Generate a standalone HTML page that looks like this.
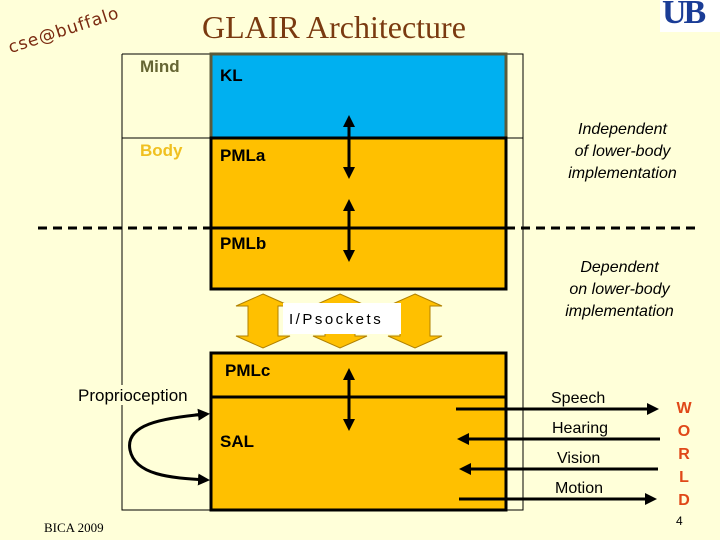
<!DOCTYPE html>
<html><head><style>
body{margin:0;background:#ffffd9;}
#c{position:relative;width:720px;height:540px;overflow:hidden;background:#ffffd9;font-family:"Liberation Sans",Arial,sans-serif;}
.t{position:absolute;white-space:nowrap;}
</style></head><body><div id="c">
<svg width="720" height="540" style="position:absolute;left:0;top:0">
<defs>
<marker id="a" markerWidth="12" markerHeight="12" refX="9" refY="6" orient="auto" markerUnits="userSpaceOnUse"><path d="M0,0 L12,6 L0,12 z" fill="#000"/></marker>
<marker id="s" markerWidth="12" markerHeight="12" refX="3" refY="6" orient="auto" markerUnits="userSpaceOnUse"><path d="M12,0 L0,6 L12,12 z" fill="#000"/></marker>
</defs>
<path d="M122,54 V385 M122,405 V510 H523 V54 H122 M122,138 H523" stroke="#000" stroke-width="1" fill="none"/>
<rect x="211" y="54" width="295" height="84" fill="#00b0f0" stroke="#5a5a3a" stroke-width="3"/>
<rect x="211" y="138" width="295" height="151" fill="#ffc000" stroke="#000" stroke-width="3"/>
<line x1="211" y1="228" x2="506" y2="228" stroke="#000" stroke-width="3"/>
<line x1="38" y1="228" x2="211" y2="228" stroke="#000" stroke-width="3" stroke-dasharray="9,6"/>
<line x1="506" y1="228" x2="695" y2="228" stroke="#000" stroke-width="3" stroke-dasharray="9,6"/>
<rect x="211" y="353" width="295" height="157" fill="#ffc000" stroke="#000" stroke-width="3"/>
<line x1="211" y1="397" x2="506" y2="397" stroke="#000" stroke-width="3"/>
<g stroke="#000" stroke-width="3">
<line x1="349" y1="118" x2="349" y2="176" marker-start="url(#s)" marker-end="url(#a)"/>
<line x1="349" y1="202" x2="349" y2="259" marker-start="url(#s)" marker-end="url(#a)"/>
<line x1="349" y1="371" x2="349" y2="428" marker-start="url(#s)" marker-end="url(#a)"/>
<line x1="456" y1="409" x2="656" y2="409" marker-end="url(#a)"/>
<line x1="460" y1="439" x2="660" y2="439" marker-start="url(#s)"/>
<line x1="462" y1="469" x2="658" y2="469" marker-start="url(#s)"/>
<line x1="459" y1="499" x2="654" y2="499" marker-end="url(#a)"/>
<path d="M207,414 C160,418 125,425 130,450 C135,475 170,478 207,480" fill="none" marker-end="url(#a)"/>
<line x1="195" y1="415" x2="207" y2="414" marker-end="url(#a)"/>
</g>
<g fill="#ffc000" stroke="#b08000" stroke-width="1">
<path d="M263,294 L290,306 H278 V336 H290 L263,348 L236,336 H248 V306 H236 Z"/>
<path d="M340,294 L367,306 H355 V336 H367 L340,348 L313,336 H325 V306 H313 Z"/>
<path d="M415,294 L442,306 H430 V336 H442 L415,348 L388,336 H400 V306 H388 Z"/>
</g>
<rect x="283" y="303" width="118" height="31" fill="#fff"/>
</svg>
<div class="t" style="left:12px;top:38px;font-family:'DejaVu Sans';font-size:17px;color:#7a2a10;transform:rotate(-18deg);transform-origin:0 100%;letter-spacing:1px">cse@buffalo</div>
<div class="t" style="left:202px;top:9px;font-family:'Liberation Serif',serif;font-size:32px;color:#7a3a10">GLAIR Architecture</div>
<div style="position:absolute;left:660px;top:0;width:60px;height:32px;background:#fff"></div>
<div class="t" style="left:662px;top:-6px;font-family:'Liberation Serif',serif;font-weight:bold;font-size:34px;color:#1a3c96;letter-spacing:-3px">UB</div>
<div class="t" style="left:140px;top:57px;font-size:17px;font-weight:bold;color:#666633">Mind</div>
<div class="t" style="left:140px;top:141px;font-size:17px;font-weight:bold;color:#f0c020">Body</div>
<div class="t" style="left:220px;top:66px;font-size:17px;font-weight:bold">KL</div>
<div class="t" style="left:220px;top:146px;font-size:17px;font-weight:bold">PMLa</div>
<div class="t" style="left:220px;top:234px;font-size:17px;font-weight:bold">PMLb</div>
<div class="t" style="left:225px;top:361px;font-size:17px;font-weight:bold">PMLc</div>
<div class="t" style="left:220px;top:432px;font-size:17px;font-weight:bold">SAL</div>
<div class="t" style="left:289px;top:311px;font-size:15px;letter-spacing:2.5px">I/Psockets</div>
<div class="t" style="left:78px;top:386px;font-size:17px">Proprioception</div>
<div class="t" style="left:540px;top:119px;width:165px;text-align:center;font-size:16px;font-style:italic;line-height:22px">Independent<br>of lower-body<br>implementation</div>
<div class="t" style="left:537px;top:257px;width:165px;text-align:center;font-size:16px;font-style:italic;line-height:22px">Dependent<br>on lower-body<br>implementation</div>
<div class="t" style="left:551px;top:390px;font-size:16px">Speech</div>
<div class="t" style="left:552px;top:420px;font-size:16px">Hearing</div>
<div class="t" style="left:557px;top:450px;font-size:16px">Vision</div>
<div class="t" style="left:555px;top:480px;font-size:16px">Motion</div>
<div class="t" style="left:676px;top:397px;width:16px;text-align:center;font-size:16px;font-weight:bold;color:#e04818;line-height:23px;white-space:normal">W O R L D</div>
<div class="t" style="left:676px;top:514px;font-size:12px">4</div>
<div class="t" style="left:44px;top:520px;font-family:'Liberation Serif',serif;font-size:13px">BICA 2009</div>
</div></body></html>
